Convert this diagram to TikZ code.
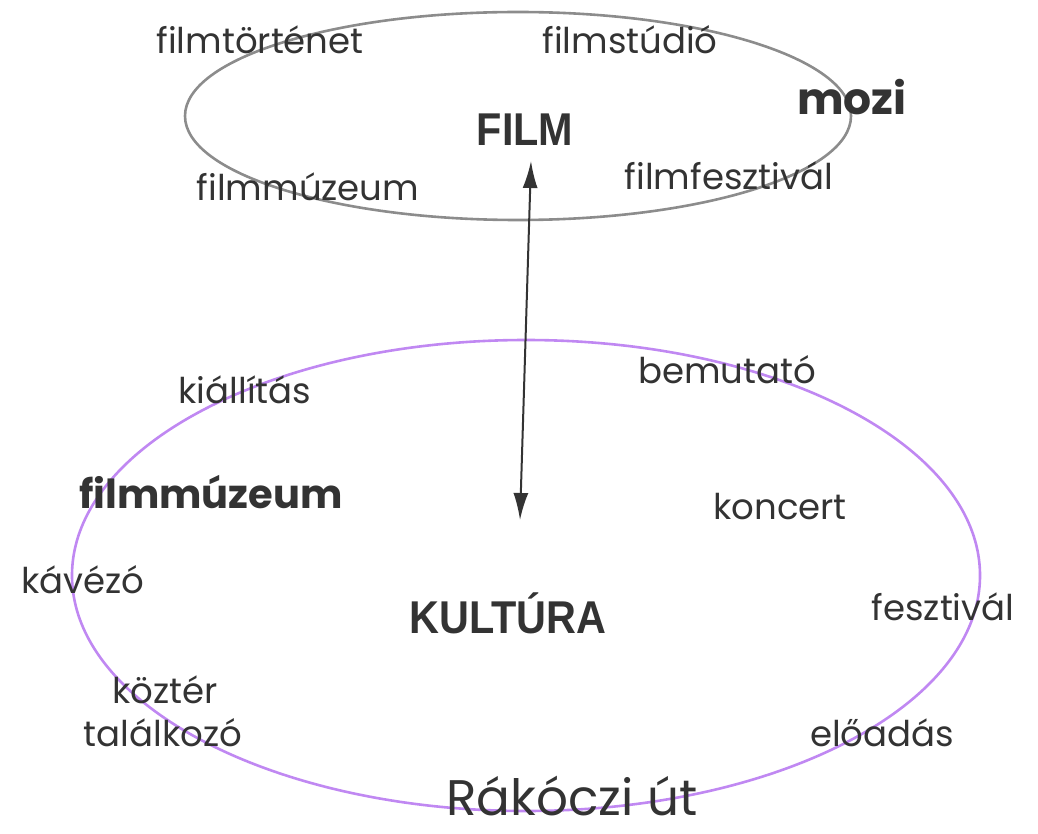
\documentclass[tikz,border=0pt]{standalone}
\usepackage{fontspec}
\setmainfont{Poppins}
\newfontfamily\condb[FakeStretch=0.9]{Liberation Sans Bold}
\usetikzlibrary{arrows.meta}
\definecolor{txt}{HTML}{333333}
\definecolor{grayring}{HTML}{8C8C8C}
\definecolor{purplering}{HTML}{C088F2}
\tikzset{
  lbl/.style={text=txt, inner sep=0pt, font=\fontsize{35.5}{40}\selectfont},
  blbl/.style={text=txt, inner sep=0pt, font=\fontsize{40}{46}\selectfont\bfseries},
  mozilbl/.style={text=txt, inner sep=0pt, font=\fontsize{44}{50}\selectfont\bfseries},
  caplbl/.style={text=txt, inner sep=0pt, font=\fontsize{46}{52}\selectfont\condb},
  biglbl/.style={text=txt, inner sep=0pt, font=\fontsize{50}{56}\selectfont},
  ring/.style={line width=2.6pt},
  link/.style={draw=txt, line width=2pt, {Latex[length=27pt,width=15pt]}-{Latex[length=27pt,width=15pt]}}
}
\begin{document}
\begin{tikzpicture}[x=1pt,y=-1pt]
\useasboundingbox (0,0) rectangle (1038,834);
\draw[ring, draw=grayring] (518,116) ellipse [x radius=333, y radius=104];
\draw[ring, draw=purplering] (526,575.5) ellipse [x radius=454, y radius=235.5];
\node[lbl] (n1) at (260,40) {filmtörténet};
\node[lbl] (n2) at (630,40) {filmstúdió};
\node[mozilbl] (n3) at (852,97) {mozi};
\node[caplbl] (film) at (525,130) {FILM};
\node[lbl] (n4) at (729,176) {filmfesztivál};
\node[lbl] (n5) at (308,187) {filmmúzeum};
\node[lbl] (n6) at (245,390) {kiállítás};
\node[lbl] (n7) at (727,370) {bemutató};
\node[blbl] (n8) at (211,492) {filmmúzeum};
\node[lbl] (n9) at (780,507) {koncert};
\node[lbl] (n10) at (83,580) {kávézó};
\node[caplbl] (kult) at (508,613) {KULTÚRA};
\node[lbl] (n11) at (943,607) {fesztivál};
\node[lbl] (n12) at (165,690) {köztér};
\node[lbl] (n13) at (163,733) {találkozó};
\node[lbl] (n14) at (882,733) {előadás};
\node[biglbl, anchor=base] (n15) at (572,815) {Rákóczi út};
\coordinate (atop) at (531,161);
\coordinate (abot) at (520,520);
\draw[link] (abot) -- (atop);
\end{tikzpicture}
\end{document}
